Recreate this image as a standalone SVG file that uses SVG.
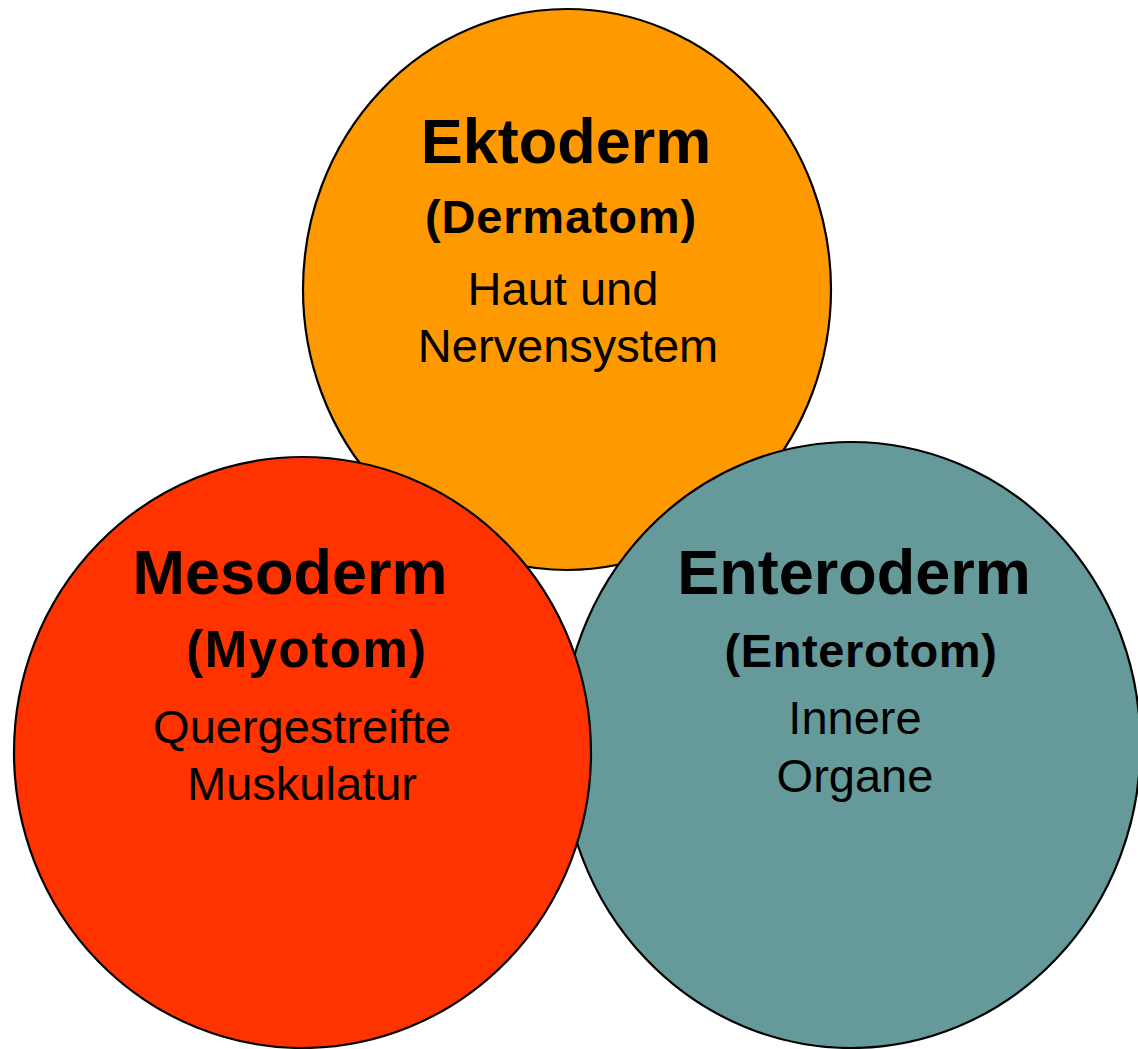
<svg xmlns="http://www.w3.org/2000/svg" width="1138" height="1049" viewBox="0 0 1138 1049">
<style>
.c{stroke:#000;stroke-width:2.2}
text{font-family:"Liberation Sans",Arial,sans-serif;fill:#000;text-anchor:middle}
.t{font-weight:bold;font-size:63px}
.s{font-weight:bold;font-size:47px}
.b{font-size:47px}
</style>
<rect width="1138" height="1049" fill="#fff"/>
<g id="ektoderm">
<ellipse class="c" cx="567" cy="289.5" rx="264" ry="280.5" fill="#FF9900"/>
<text class="t" x="566" y="163">Ektoderm</text>
<text class="s" x="561" y="233" letter-spacing="0.8">(Dermatom)</text>
<text class="b" x="563" y="305">Haut und</text>
<text class="b" x="568" y="362">Nervensystem</text>
</g>
<g id="enteroderm">
<ellipse class="c" cx="851" cy="745" rx="289.5" ry="303" fill="#669999"/>
<text class="t" x="854" y="594">Enteroderm</text>
<text class="s" x="861" y="667" letter-spacing="0.6">(Enterotom)</text>
<text class="b" x="855" y="734">Innere</text>
<text class="b" x="855" y="792">Organe</text>
</g>
<g id="mesoderm">
<ellipse class="c" cx="302.5" cy="752.5" rx="288.5" ry="295.5" fill="#FF3300"/>
<text class="t" x="290" y="594">Mesoderm</text>
<text class="s" x="307" y="667" letter-spacing="1.5" style="font-size:51px">(Myotom)</text>
<text class="b" x="302" y="743">Quergestreifte</text>
<text class="b" x="302" y="800">Muskulatur</text>
</g>
<g id="connectors"/>
</svg>
